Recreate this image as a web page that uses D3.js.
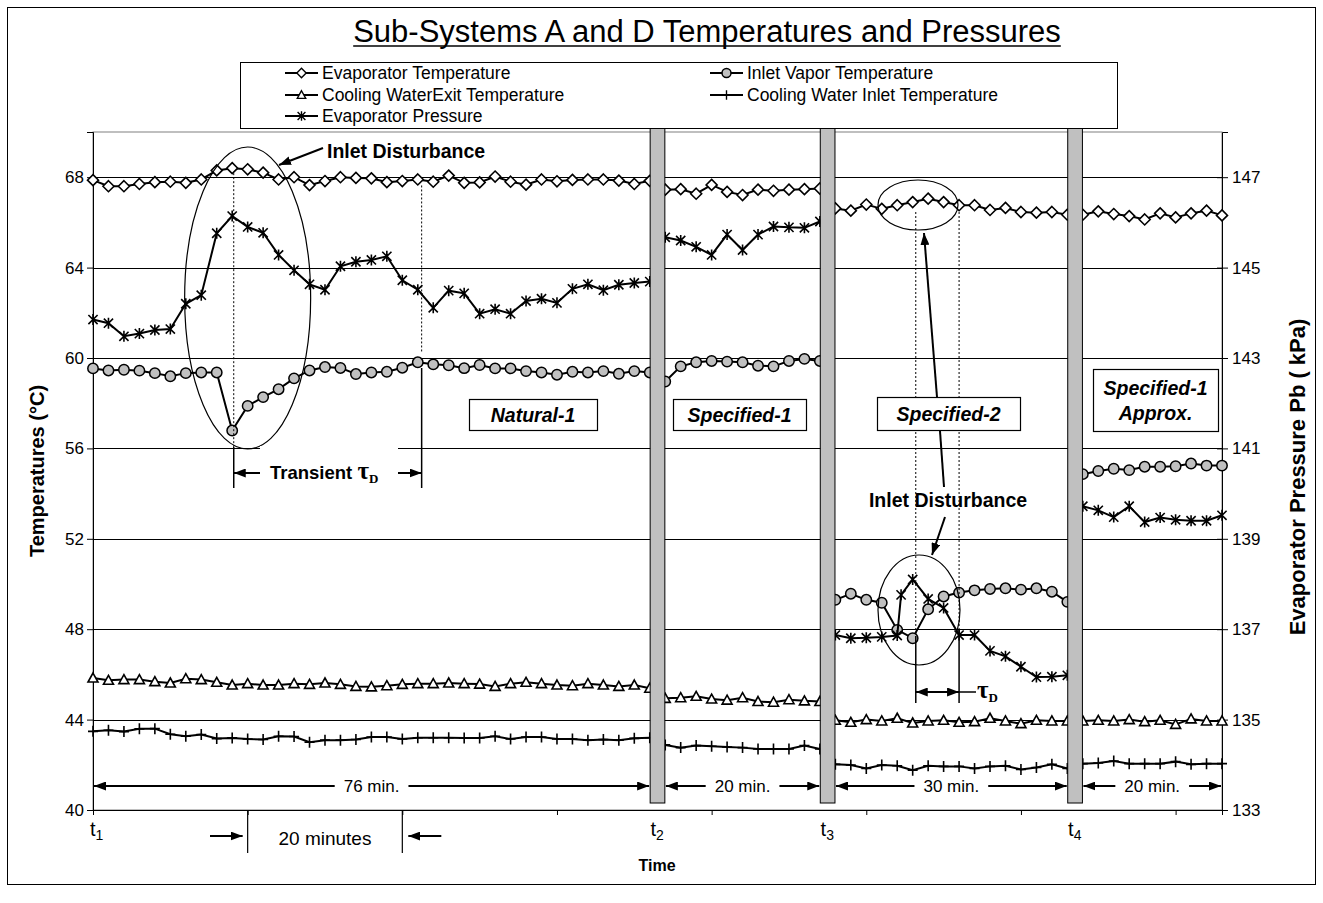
<!DOCTYPE html>
<html>
<head>
<meta charset="utf-8">
<script src="https://cdn.jsdelivr.net/npm/d3@7"></script>
<style>
  body { margin: 0; background: #fff; }
  svg { display: block; }
  text { font-family: "Liberation Sans", Arial, sans-serif; fill: #000; }
</style>
</head>
<body>
<svg id="chart" width="1323" height="903"></svg>
<script>
// ---- data: one sample every 2 minutes ----
const sampleMinutes = [
  0, 2, 4, 6, 8, 10, 12, 14, 16, 18, 20, 22, 24, 26, 28, 30, 32, 34, 36, 38, 40, 42, 44, 46, 48,
  50, 52, 54, 56, 58, 60, 62, 64, 66, 68, 70, 72,
  74, 76, 78, 80, 82, 84, 86, 88, 90, 92, 94,
  96, 98, 100, 102, 104, 106, 108, 110, 112, 114, 116, 118, 120, 122, 124, 126,
  128, 130, 132, 134, 136, 138, 140, 142, 144, 146
];

const evapTemp = [
  67.87, 67.6, 67.6, 67.7, 67.78, 67.8, 67.75, 67.9, 68.3, 68.4, 68.35, 68.2, 67.9, 68.0, 67.65, 67.83, 68.0, 67.97, 67.95, 67.78, 67.83, 67.9, 67.8, 68.07, 67.75,
  67.77, 68.03, 67.8, 67.67, 67.9, 67.82, 67.88, 67.9, 67.9, 67.85, 67.7, 67.84,
  67.45, 67.47, 67.27, 67.66, 67.35, 67.21, 67.45, 67.4, 67.45, 67.47, 67.5,
  66.62, 66.52, 66.79, 66.6, 66.76, 66.9, 67.05, 66.9, 66.76, 66.76, 66.55, 66.64, 66.46, 66.43, 66.46, 66.34,
  66.34, 66.49, 66.37, 66.28, 66.13, 66.4, 66.22, 66.4, 66.52, 66.31
];

const inletVaporTemp = [
  59.54, 59.45, 59.48, 59.44, 59.33, 59.19, 59.33, 59.36, 59.36, 56.79, 57.88, 58.27, 58.62, 59.1, 59.45, 59.6, 59.56, 59.29, 59.36, 59.39, 59.57, 59.81, 59.72, 59.68, 59.55,
  59.69, 59.54, 59.54, 59.42, 59.36, 59.26, 59.39, 59.36, 59.42, 59.3, 59.42, 59.36,
  58.96, 59.63, 59.81, 59.87, 59.84, 59.81, 59.66, 59.63, 59.87, 59.96, 59.87,
  49.3, 49.57, 49.3, 49.17, 47.97, 47.6, 48.88, 49.45, 49.62, 49.72, 49.78, 49.81, 49.75, 49.81, 49.66, 49.21,
  54.86, 55.0, 55.1, 55.04, 55.19, 55.19, 55.21, 55.33, 55.24, 55.24
];

const coolingExitTemp = [
  45.84, 45.74, 45.77, 45.77, 45.68, 45.62, 45.81, 45.77, 45.65, 45.53, 45.59, 45.53, 45.53, 45.59, 45.56, 45.62, 45.56, 45.47, 45.45, 45.5, 45.56, 45.59, 45.59, 45.62, 45.59,
  45.57, 45.47, 45.59, 45.65, 45.59, 45.53, 45.5, 45.59, 45.53, 45.47, 45.53, 45.39,
  44.94, 44.97, 45.03, 44.91, 44.86, 44.97, 44.8, 44.77, 44.88, 44.83, 44.8,
  43.97, 43.88, 44.0, 43.94, 44.06, 43.85, 43.94, 43.97, 43.88, 43.91, 44.06, 43.94, 43.82, 43.97, 43.94, 43.94,
  43.94, 43.97, 43.94, 44.0, 43.91, 43.97, 43.79, 44.03, 43.94, 43.94
];

const coolingInletTemp = [
  43.48, 43.53, 43.47, 43.59, 43.6, 43.35, 43.26, 43.34, 43.16, 43.19, 43.14, 43.12, 43.26, 43.25, 43.0, 43.09, 43.09, 43.12, 43.23, 43.23, 43.14, 43.2, 43.2, 43.2, 43.19,
  43.19, 43.26, 43.14, 43.23, 43.23, 43.14, 43.14, 43.09, 43.12, 43.09, 43.17, 43.2,
  42.88, 42.76, 42.85, 42.82, 42.79, 42.76, 42.7, 42.7, 42.7, 42.85, 42.7,
  42.02, 41.99, 41.84, 41.99, 41.96, 41.76, 41.96, 41.93, 41.93, 41.84, 41.93, 41.96, 41.79, 41.88, 42.02, 41.84,
  42.05, 42.08, 42.17, 42.05, 42.05, 42.05, 42.14, 42.02, 42.05, 42.05
];

// pressure log carries one extra reading during the second inlet disturbance
const pressureMinutes = [
  0, 2, 4, 6, 8, 10, 12, 14, 16, 18, 20, 22, 24, 26, 28, 30, 32, 34, 36, 38, 40, 42, 44, 46, 48,
  50, 52, 54, 56, 58, 60, 62, 64, 66, 68, 70, 72,
  74, 76, 78, 80, 82, 84, 86, 88, 90, 92, 94,
  96, 98, 100, 102, 104, 104.5, 106, 108, 110, 112, 114, 116, 118, 120, 122, 124, 126,
  128, 130, 132, 134, 136, 138, 140, 142, 144, 146
];

const evapPressure = [
  143.85, 143.77, 143.48, 143.54, 143.62, 143.64, 144.2, 144.39, 145.76, 146.14, 145.9, 145.77, 145.28, 144.94, 144.63, 144.51, 145.03, 145.13, 145.17, 145.25, 144.72, 144.51, 144.11, 144.49, 144.43,
  143.98, 144.08, 143.98, 144.26, 144.31, 144.22, 144.53, 144.63, 144.5, 144.62, 144.66, 144.69,
  145.67, 145.6, 145.46, 145.28, 145.73, 145.39, 145.73, 145.91, 145.89, 145.88, 146.02,
  136.87, 136.8, 136.81, 136.83, 136.86, 137.76, 138.1, 137.67, 137.47, 136.87, 136.87, 136.52, 136.4, 136.17, 135.94, 135.95, 135.98,
  139.72, 139.63, 139.48, 139.72, 139.37, 139.47, 139.42, 139.4, 139.4, 139.52
];

const transitionMinutes = [73, 95, 127];
const markLabels = ["1", "2", "3", "4"];
const tempTicks = [40, 44, 48, 52, 56, 60, 64, 68];
const pressureTicks = [133, 135, 137, 139, 141, 143, 145, 147];
const timeTicks = [0, 20, 40, 60, 80, 100, 120, 140];
const seriesNames = [
  "Evaporator Temperature", "Inlet Vapor Temperature",
  "Cooling WaterExit Temperature", "Cooling Water Inlet Temperature",
  "Evaporator Pressure"
];
const modeNames = [["Natural-1"], ["Specified-1"], ["Specified-2"], ["Specified-1", "Approx."]];
const periodLabels = ["76 min.", "20 min.", "30 min.", "20 min."];

// ---- layout ----
const W = 1323, H = 903;
const plot = { left: 93, right: 1222, top: 132, bottom: 810 };

const svg = d3.select("#chart");
svg.append("rect").attr("width", W).attr("height", H).attr("fill", "#fff");
svg.append("rect").attr("x", 7.5).attr("y", 7.5).attr("width", 1308).attr("height", 877)
  .attr("fill", "none").attr("stroke", "#000").attr("stroke-width", 1);

const x = d3.scaleLinear().domain([0, 146]).range([plot.left, plot.right]);
const yT = d3.scaleLinear().domain([40, 70]).range([plot.bottom, plot.top]);
const yP = d3.scaleLinear().domain([133, 148]).range([plot.bottom, plot.top]);

const defs = svg.append("defs");
defs.append("marker").attr("id", "head")
  .attr("viewBox", "0 0 12 9").attr("refX", 12).attr("refY", 4.5)
  .attr("markerWidth", 12).attr("markerHeight", 9).attr("markerUnits", "userSpaceOnUse")
  .attr("orient", "auto-start-reverse")
  .append("path").attr("d", "M0,0L12,4.5L0,9Z").attr("fill", "#000");

// plot frame and gridlines
svg.append("rect").attr("x", plot.left).attr("y", plot.top)
  .attr("width", plot.right - plot.left).attr("height", plot.bottom - plot.top)
  .attr("fill", "none").attr("stroke", "#808080").attr("stroke-width", 1);
svg.append("g").selectAll("line").data(tempTicks.filter(v => v > 40)).join("line")
  .attr("x1", plot.left).attr("x2", plot.right)
  .attr("y1", d => Math.round(yT(d)) + 0.5).attr("y2", d => Math.round(yT(d)) + 0.5)
  .attr("stroke", "#000").attr("stroke-width", 1);

// axes
const axisFont = g => g.selectAll("text").style("font-family", '"Liberation Sans", Arial, sans-serif')
  .style("font-size", "17px").attr("fill", "#000");

const gl = svg.append("g").attr("transform", `translate(${plot.left},0)`)
  .call(d3.axisLeft(yT).tickValues(tempTicks).tickSize(6).tickPadding(3));
gl.call(axisFont);
gl.selectAll("path,line").attr("stroke", "#000");

const gr = svg.append("g").attr("transform", `translate(${plot.right},0)`)
  .call(d3.axisRight(yP).tickValues(pressureTicks).tickSize(6).tickPadding(4));
gr.call(axisFont);
gr.selectAll("path,line").attr("stroke", "#000");
gr.selectAll(".tick line").attr("x1", -5);

const gb = svg.append("g").attr("transform", `translate(0,${plot.bottom})`)
  .call(d3.axisBottom(x).tickValues(timeTicks).tickSize(5).tickFormat(""));
gb.selectAll("path,line").attr("stroke", "#000");

// ---- series ----
function splitRuns(times, vals) {
  const out = transitionMinutes.map(() => []).concat([[]]);
  times.forEach((t, i) => {
    const k = transitionMinutes.filter(b => t > b).length;
    out[k].push([t, vals[i]]);
  });
  return out;
}

const shapes = {
  diamond: "M0,-5.5L5.5,0L0,5.5L-5.5,0Z",
  triangle: "M0,-5L5,4L-5,4Z",
  plus: "M-5,0H5M0,-5.5V5.5",
  star: "M0,-5.5V5.5M-4.6,-4.6L4.6,4.6M-4.6,4.6L4.6,-4.6"
};

function drawSeries(times, vals, yScale, kind) {
  const g = svg.append("g");
  const line = d3.line().x(d => x(d[0])).y(d => yScale(d[1]));
  const runs = splitRuns(times, vals);
  g.selectAll("path.run").data(runs).join("path").attr("class", "run")
    .attr("d", line).attr("fill", "none").attr("stroke", "#000").attr("stroke-width", 2);
  const pts = runs.flat();
  if (kind === "circle") {
    g.selectAll("circle").data(pts).join("circle")
      .attr("cx", d => x(d[0])).attr("cy", d => yScale(d[1])).attr("r", 5.2)
      .attr("fill", "#c0c0c0").attr("stroke", "#000").attr("stroke-width", 1.5);
  } else {
    const filled = kind === "diamond" || kind === "triangle";
    g.selectAll("path.mk").data(pts).join("path").attr("class", "mk")
      .attr("transform", d => `translate(${x(d[0])},${yScale(d[1])})`)
      .attr("d", shapes[kind])
      .attr("fill", filled ? "#fff" : "none").attr("stroke", "#000")
      .attr("stroke-width", 1.6);
  }
}

drawSeries(sampleMinutes, evapTemp, yT, "diamond");
drawSeries(sampleMinutes, inletVaporTemp, yT, "circle");
drawSeries(sampleMinutes, coolingExitTemp, yT, "triangle");
drawSeries(sampleMinutes, coolingInletTemp, yT, "plus");
drawSeries(pressureMinutes, evapPressure, yP, "star");

// ---- annotations ----
const ann = svg.append("g");
function seg(x1, y1, x2, y2, opts = {}) {
  const l = ann.append("line").attr("x1", x1).attr("y1", y1).attr("x2", x2).attr("y2", y2)
    .attr("stroke", "#000").attr("stroke-width", opts.w || 1);
  if (opts.dash) l.attr("stroke-dasharray", opts.dash);
  if (opts.end) l.attr("marker-end", "url(#head)");
  if (opts.start) l.attr("marker-start", "url(#head)");
  return l;
}
function ellipse(cx, cy, rx, ry) {
  ann.append("ellipse").attr("cx", cx).attr("cy", cy).attr("rx", rx).attr("ry", ry)
    .attr("fill", "none").attr("stroke", "#000").attr("stroke-width", 1.2);
}
function tauLabel(x0, y0, prefix) {
  const t = ann.append("text").attr("x", x0).attr("y", y0).style("font-weight", "bold");
  if (prefix) t.append("tspan").text(prefix).style("font-size", "18.5px");
  t.append("tspan").text("τ").style("font-family", '"Liberation Serif", "Times New Roman", serif')
    .style("font-size", "25px");
  t.append("tspan").text("D").attr("dy", 4).style("font-family", '"Liberation Serif", "Times New Roman", serif')
    .style("font-size", "13px");
  return t;
}

// first disturbance (Natural-1)
ellipse(x(20), 298, 63, 151);
ann.append("text").attr("x", 327).attr("y", 158).text("Inlet Disturbance")
  .style("font-weight", "bold").style("font-size", "19.5px");
seg(323, 148, 279, 165, { w: 2, end: true });
seg(x(18.2), yT(68.4) + 5, x(18.2), 447, { dash: "2,2" });
seg(x(18.2), 447, x(18.2), 488, { w: 1.5 });
seg(x(42.5), yT(67.9) + 6, x(42.5), 352, { dash: "2,2" });
seg(x(42.5), 368, x(42.5), 488, { w: 1.5 });
seg(x(18.2), 473, x(42.5), 473, { w: 2, start: true, end: true });
ann.append("rect").attr("x", 260).attr("y", 446).attr("width", 138).attr("height", 44).attr("fill", "#fff");
tauLabel(270, 479, "Transient ");

// second disturbance (Specified-2)
ellipse(918, 205, 40, 25);
ellipse(919, 610, 41, 55);
seg(x(106.4), 212, x(106.4), 636, { dash: "2,2" });
seg(x(106.4), 636, x(106.4), 703, { w: 1.5 });
seg(x(112), 212, x(112), 630, { dash: "2,2" });
seg(x(112), 630, x(112), 703, { w: 1.5 });
seg(x(106.4), 692, x(112), 692, { w: 2, start: true, end: true });
seg(x(112), 692, 976, 692, { w: 1.5 });
tauLabel(977, 698, null);
seg(937, 397, 924, 233, { w: 2, end: true });
seg(940, 431, 944, 487, { w: 2 });
seg(945, 517, 932, 555, { w: 2, end: true });
ann.append("text").attr("x", 948).attr("y", 507).attr("text-anchor", "middle")
  .text("Inlet Disturbance").style("font-weight", "bold").style("font-size", "19.5px");

// operating-mode boxes
const boxes = [
  { x0: 469, x1: 597, y0: 399, y1: 430 },
  { x0: 673, x1: 806, y0: 399, y1: 430 },
  { x0: 877, x1: 1020, y0: 397, y1: 430 },
  { x0: 1093, x1: 1218, y0: 369, y1: 431 }
];
boxes.forEach((b, i) => {
  ann.append("rect").attr("x", b.x0 + 0.5).attr("y", b.y0 + 0.5)
    .attr("width", b.x1 - b.x0).attr("height", b.y1 - b.y0)
    .attr("fill", "#fff").attr("stroke", "#000").attr("stroke-width", 1.2);
  const lines = modeNames[i];
  const cy = (b.y0 + b.y1) / 2;
  lines.forEach((s, j) => {
    ann.append("text").attr("x", (b.x0 + b.x1) / 2)
      .attr("y", cy + 7 + (j - (lines.length - 1) / 2) * 25)
      .attr("text-anchor", "middle").text(s)
      .style("font-weight", "bold").style("font-style", "italic").style("font-size", "19.5px");
  });
});

// transition bars
const barHalf = 0.95;
svg.append("g").selectAll("rect").data(transitionMinutes).join("rect")
  .attr("x", d => x(d - barHalf)).attr("width", d => x(d + barHalf) - x(d - barHalf))
  .attr("y", 127).attr("height", 803 - 127)
  .attr("fill", "#c0c0c0").attr("stroke", "#000").attr("stroke-width", 1);

// period spans along the bottom
const edges = [0].concat(transitionMinutes.flatMap(t => [t - barHalf, t + barHalf])).concat([146]);
const pg = svg.append("g");
periodLabels.forEach((lab, i) => {
  const a = x(edges[2 * i]), b = x(edges[2 * i + 1]);
  pg.append("line").attr("x1", a + 1).attr("x2", b - 1).attr("y1", 786).attr("y2", 786)
    .attr("stroke", "#000").attr("stroke-width", 2)
    .attr("marker-start", "url(#head)").attr("marker-end", "url(#head)");
  const t = pg.append("text").attr("x", (a + b) / 2).attr("y", 792).attr("text-anchor", "middle")
    .text(lab).style("font-size", "17px");
  const bb = t.node().getBBox();
  pg.insert("rect", "text:last-of-type").attr("x", bb.x - 9).attr("y", bb.y).attr("width", bb.width + 18)
    .attr("height", bb.height).attr("fill", "#fff");
});

// t markers under the axis
const markPos = [0].concat(transitionMinutes);
markPos.forEach((m, i) => {
  const t = svg.append("text").attr("x", x(m) - (i === 0 ? 3 : 7)).attr("y", 836).style("font-size", "20px");
  t.append("tspan").text("t");
  t.append("tspan").text(markLabels[i]).attr("dy", 4).style("font-size", "14px");
});

// 20-minute scale marker
seg(x(20), plot.bottom, x(20), 853, { w: 1.2 });
seg(x(40), plot.bottom, x(40), 853, { w: 1.2 });
seg(210, 836, x(20) - 5, 836, { w: 2, end: true });
seg(x(40) + 39, 836, x(40) + 6, 836, { w: 2, end: true });
svg.append("text").attr("x", (x(20) + x(40)) / 2).attr("y", 845).attr("text-anchor", "middle")
  .text("20 minutes").style("font-size", "19px");

// axis titles
svg.append("text").attr("x", 657).attr("y", 871).attr("text-anchor", "middle")
  .text("Time").style("font-weight", "bold").style("font-size", "16px");
svg.append("text").attr("transform", "translate(44,471) rotate(-90)").attr("text-anchor", "middle")
  .text("Temperatures (°C)").style("font-weight", "bold").style("font-size", "20px");
svg.append("text").attr("transform", "translate(1305,477) rotate(-90)").attr("text-anchor", "middle")
  .text("Evaporator Pressure Pb ( kPa)").style("font-weight", "bold").style("font-size", "22px");

// title
const title = svg.append("text").attr("x", 707).attr("y", 42).attr("text-anchor", "middle")
  .text("Sub-Systems A and D Temperatures and Pressures").style("font-size", "31px");
const tw = title.node().getComputedTextLength();
svg.append("line").attr("x1", 707 - tw / 2).attr("x2", 707 + tw / 2).attr("y1", 46).attr("y2", 46)
  .attr("stroke", "#000").attr("stroke-width", 1.5);

// legend
const lg = svg.append("g");
lg.append("rect").attr("x", 240.5).attr("y", 62.5).attr("width", 877).attr("height", 66)
  .attr("fill", "#fff").attr("stroke", "#000").attr("stroke-width", 1);
const legendKinds = ["diamond", "circle", "triangle", "plus", "star"];
const legendPos = [[285, 73], [710, 73], [285, 95], [710, 95], [285, 116]];
seriesNames.forEach((name, i) => {
  const [lx, ly] = legendPos[i];
  lg.append("line").attr("x1", lx).attr("x2", lx + 33).attr("y1", ly).attr("y2", ly)
    .attr("stroke", "#000").attr("stroke-width", 2);
  const k = legendKinds[i];
  if (k === "circle") {
    lg.append("circle").attr("cx", lx + 16.5).attr("cy", ly).attr("r", 4.5)
      .attr("fill", "#c0c0c0").attr("stroke", "#000").attr("stroke-width", 1.5);
  } else {
    lg.append("path").attr("transform", `translate(${lx + 16.5},${ly}) scale(0.85)`)
      .attr("d", shapes[k]).attr("fill", (k === "diamond" || k === "triangle") ? "#fff" : "none")
      .attr("stroke", "#000").attr("stroke-width", 1.6);
  }
  lg.append("text").attr("x", lx + 37).attr("y", ly + 6).text(name).style("font-size", "17.5px");
});
</script>
</body>
</html>
